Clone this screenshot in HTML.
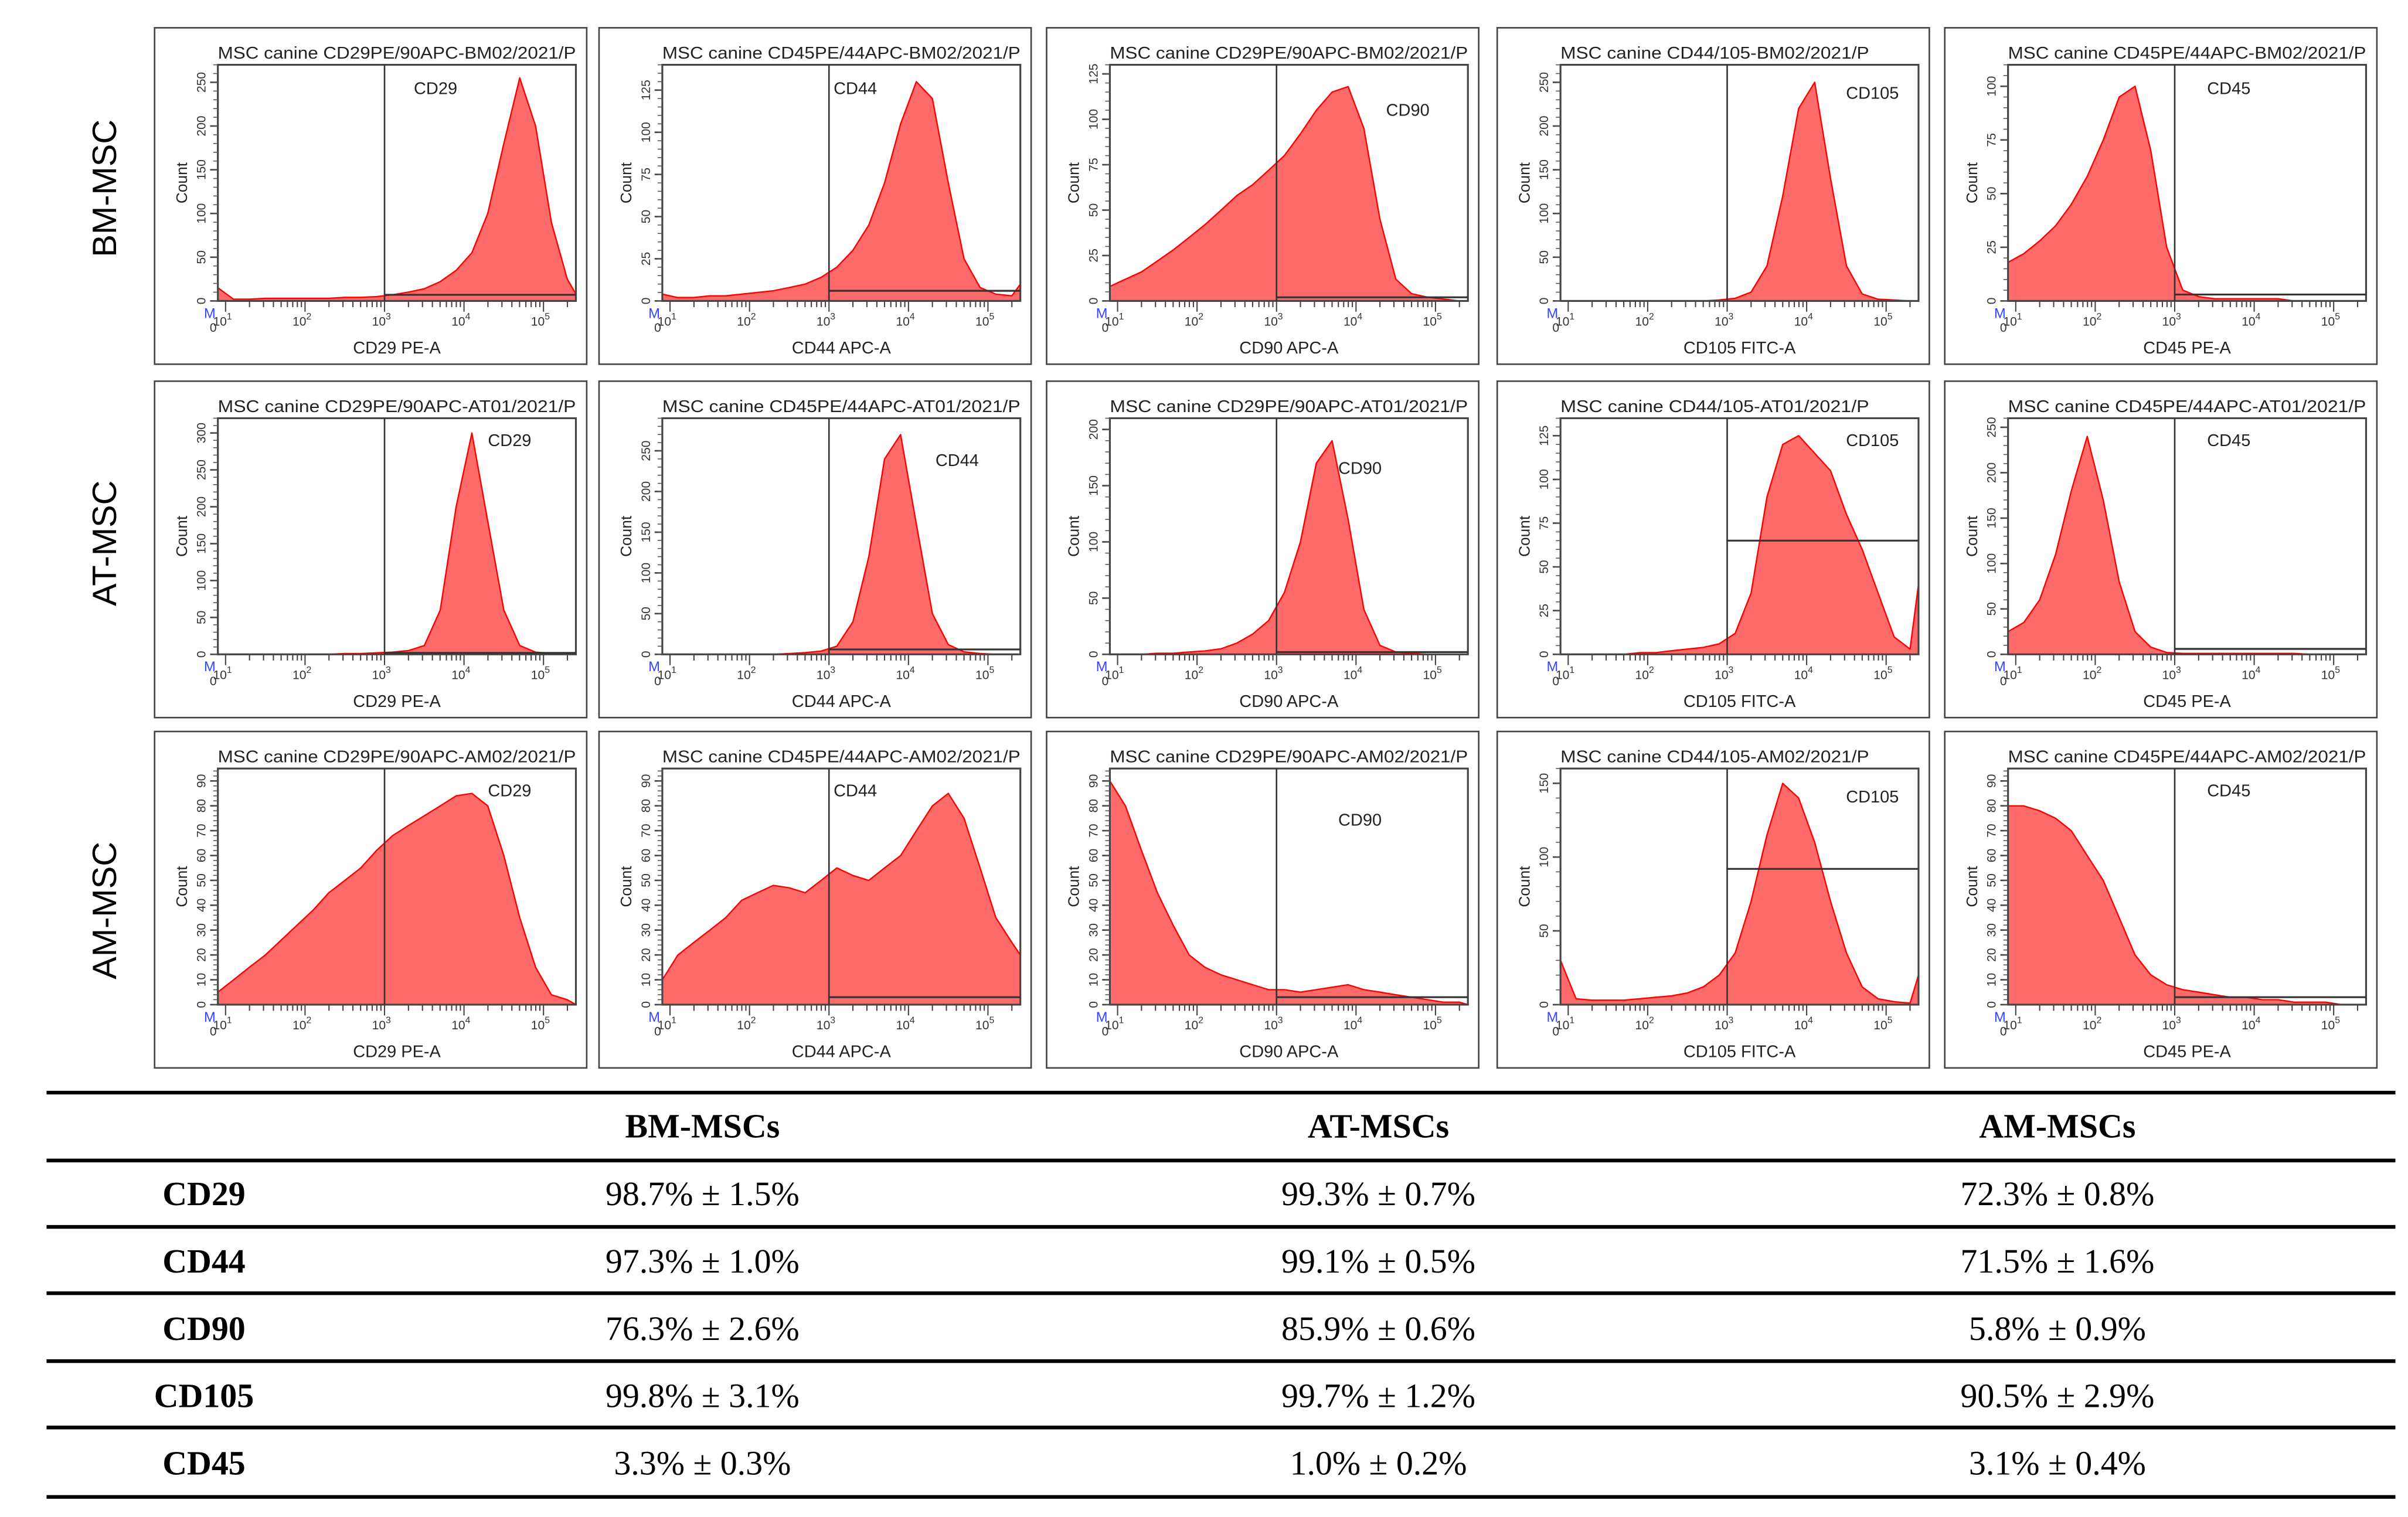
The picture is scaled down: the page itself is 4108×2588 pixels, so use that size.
<!DOCTYPE html>
<html><head><meta charset="utf-8"><style>
html,body{margin:0;padding:0;background:#fff;}
svg{display:block;}
</style></head><body>
<svg id="fig" width="4108" height="2588" viewBox="0 0 1560 983" xmlns="http://www.w3.org/2000/svg" font-family="Liberation Sans, sans-serif">
<g id="panels"></g>
<g id="rowlabels" font-size="22" text-anchor="middle">
<text transform="translate(75,122) rotate(-90)">BM-MSC</text>
<text transform="translate(75,352) rotate(-90)">AT-MSC</text>
<text transform="translate(75,590) rotate(-90)">AM-MSC</text>
</g>
<g id="table" font-family="Liberation Serif, serif" font-size="22" text-anchor="middle"></g>
</svg>
<script>
const NS='http://www.w3.org/2000/svg';
// bin centers in log10 units
const bins=[0.9,1.1,1.3,1.5,1.7,1.9,2.1,2.3,2.5,2.7,2.9,3.1,3.3,3.5,3.7,3.9,4.1,4.3,4.5,4.7,4.9,5.1,5.3,5.45];
const markers=['CD29','CD44','CD90','CD105','CD45'];
const xLabels=['CD29 PE-A','CD44 APC-A','CD90 APC-A','CD105 FITC-A','CD45 PE-A'];
const titles=[
['MSC canine CD29PE/90APC-BM02/2021/P','MSC canine CD45PE/44APC-BM02/2021/P','MSC canine CD29PE/90APC-BM02/2021/P','MSC canine CD44/105-BM02/2021/P','MSC canine CD45PE/44APC-BM02/2021/P'],
['MSC canine CD29PE/90APC-AT01/2021/P','MSC canine CD45PE/44APC-AT01/2021/P','MSC canine CD29PE/90APC-AT01/2021/P','MSC canine CD44/105-AT01/2021/P','MSC canine CD45PE/44APC-AT01/2021/P'],
['MSC canine CD29PE/90APC-AM02/2021/P','MSC canine CD45PE/44APC-AM02/2021/P','MSC canine CD29PE/90APC-AM02/2021/P','MSC canine CD44/105-AM02/2021/P','MSC canine CD45PE/44APC-AM02/2021/P']];
const titleLen=[[232,232,232,200,232],[232,232,232,200,232],[232,232,232,200,232]];
const yMax=[[270,140,130,270,110],[320,290,210,135,260],[95,95,95,160,95]];
const yStep=[[50,25,25,50,25],[50,50,50,25,50],[10,10,10,50,10]];
const counts=[
[[15,2,2,3,3,3,3,3,4,4,5,7,10,14,22,35,55,100,180,255,200,90,25,8],
 [4,2,2,3,3,4,5,6,8,10,14,20,30,45,70,105,130,120,70,25,8,4,3,10],
 [8,12,16,22,28,35,42,50,58,64,72,80,92,105,115,118,95,45,12,4,2,1,0,0],
 [0,0,0,0,0,0,0,0,0,0,1,3,10,40,120,220,250,140,40,8,2,1,0,0],
 [18,22,28,35,45,58,75,95,100,70,25,5,2,1,1,1,1,1,0,0,0,0,0,0]],
[[0,0,0,0,0,0,0,0,1,1,2,3,5,12,60,200,300,180,60,12,3,1,0,0],
 [0,0,0,0,0,0,0,0,1,2,4,10,40,120,240,270,160,50,12,3,1,0,0,0],
 [0,0,0,1,1,2,3,5,10,18,30,55,100,170,190,120,40,8,2,1,0,0,0,0],
 [0,0,0,0,0,1,1,2,3,4,6,12,35,90,120,125,115,105,80,60,35,10,3,40],
 [25,35,60,110,180,240,170,80,25,8,2,1,1,1,1,1,1,1,1,0,0,0,0,0]],
[[5,10,15,20,26,32,38,45,50,55,62,68,72,76,80,84,85,80,60,35,15,4,2,0],
 [10,20,25,30,35,42,45,48,47,45,50,55,52,50,55,60,70,80,85,75,55,35,25,20],
 [90,80,62,45,32,20,15,12,10,8,6,6,5,6,7,8,6,5,4,3,2,1,1,0],
 [30,4,3,3,3,4,5,6,8,12,20,35,70,115,150,140,110,70,35,12,4,2,1,20],
 [80,80,78,75,70,60,50,35,20,12,8,6,5,4,3,3,2,2,1,1,1,0,0,0]]];
// horizontal gate level (count) from 10^3 to right
const hGate=[[7,6,2,0,3],[2,6,2,65,6],[0,3,3,92,3]];
const labelPos=[[[268,61],[540,61],[898,75],[1196,64],[1430,61]],[[316,289],[606,302],[867,307],[1196,289],[1430,289]],[[316,516],[540,516],[867,535],[1196,520],[1430,516]]];
const boxX=[100,388,678,970,1260], boxY=[18,247,474];

function el(tag,attrs,parent,text){const e=document.createElementNS(NS,tag);for(const k in attrs)e.setAttribute(k,attrs[k]);if(text!==undefined)e.textContent=text;parent.appendChild(e);return e;}
const P=document.getElementById('panels');
for(let r=0;r<3;r++)for(let c=0;c<5;c++){
  const bx=boxX[c], by=boxY[r];
  const g=el('g',{},P);
  
  
  el('rect',{x:bx,y:by,width:280,height:218,fill:'#fff',stroke:'#444','stroke-width':1},g);
  const L=bx+41, T=by+24, W=232, H=153, B=T+H;
  const xs=d=>L+108+(d-3)*51.5;
  const ys=v=>B-Math.min(v,yMax[r][c])/yMax[r][c]*H;
  const t=el('text',{x:L,y:by+20,'font-size':11,fill:'#222',textLength:titleLen[r][c],lengthAdjust:'spacingAndGlyphs'},g,titles[r][c]);
  
  
  let d='M'+L+','+B;
  bins.forEach((b,i)=>{d+=' L'+Math.min(Math.max(xs(b),L),L+W).toFixed(1)+','+ys(counts[r][c][i]).toFixed(1);});
  d+=' L'+(L+W)+','+B+' Z';
  const h=el('path',{d:d,fill:'#ff6b6b',stroke:'#f00','stroke-width':0.9,'stroke-linejoin':'round'},g);
  
  
  el('rect',{x:L,y:T,width:W,height:H,fill:'none',stroke:'#444','stroke-width':1.2},g);
  const gx=xs(3);
  el('line',{x1:gx,y1:T,x2:gx,y2:B,stroke:'#333','stroke-width':1},g);
  if(hGate[r][c]>0)el('line',{x1:gx,y1:ys(hGate[r][c]),x2:L+W,y2:ys(hGate[r][c]),stroke:'#333','stroke-width':1.2},g);
  const gl=el('text',{x:labelPos[r][c][0],y:labelPos[r][c][1],'font-size':11,fill:'#222'},g,markers[c]);
  
  
  for(let v=0;v<=yMax[r][c];v+=yStep[r][c]){
    const y=ys(v);
    el('line',{x1:L-5,y1:y,x2:L,y2:y,stroke:'#444','stroke-width':1},g);
    el('text',{'font-size':8,fill:'#333','text-anchor':'middle',transform:`translate(${L-8},${y}) rotate(-90)`},g,String(v));
  }
  for(let v=0;v<=yMax[r][c];v+=yStep[r][c]/5)el('line',{x1:L-3,y1:ys(v),x2:L,y2:ys(v),stroke:'#555','stroke-width':0.6},g);
  const yl=el('text',{'font-size':10,fill:'#222','text-anchor':'middle',transform:`translate(${L-20},${T+H/2}) rotate(-90)`},g,'Count');
  
  
  for(let p=1;p<=5;p++){
    for(let m=1;m<10;m++){const x=xs(p+Math.log10(m));if(x>L+W)break;el('line',{x1:x,y1:B,x2:x,y2:B+(m==1?7:4),stroke:'#444','stroke-width':0.8},g);}
    const tx=el('text',{x:xs(p)-2,y:B+16,'font-size':8,fill:'#333','text-anchor':'middle'},g,'10');
    el('tspan',{dy:-4,'font-size':6},tx,String(p));
  }
  el('text',{x:L-3,y:B+20,'font-size':8,fill:'#333','text-anchor':'middle'},g,'0');
  el('text',{x:L-9,y:B+11,'font-size':9,fill:'#3344ff'},g,'M');
  const xl=el('text',{x:L+W/2,y:by+211,'font-size':11,fill:'#222','text-anchor':'middle'},g,xLabels[c]);
  
  
}
const groups=['BM-MSCs','AT-MSCs','AM-MSCs'];
const vals=[['98.7% ± 1.5%','99.3% ± 0.7%','72.3% ± 0.8%'],['97.3% ± 1.0%','99.1% ± 0.5%','71.5% ± 1.6%'],['76.3% ± 2.6%','85.9% ± 0.6%','5.8% ± 0.9%'],['99.8% ± 3.1%','99.7% ± 1.2%','90.5% ± 2.9%'],['3.3% ± 0.3%','1.0% ± 0.2%','3.1% ± 0.4%']];
const Tb=document.getElementById('table');
const colX=[132,455,893,1333];
[708,752,795,838,882,925,970].forEach(y=>el('line',{x1:30,y1:y,x2:1552,y2:y,stroke:'#000','stroke-width':2.4},Tb));
groups.forEach((gname,i)=>{const t=el('text',{x:colX[i+1],y:737,'font-weight':'bold'},Tb,gname);});
markers.forEach((m,i)=>{const y=781+i*43.6;
  const t=el('text',{x:colX[0],y:y,'font-weight':'bold'},Tb,m);
  vals[i].forEach((v,j)=>{const c=el('text',{x:colX[j+1],y:y},Tb,v);});
});
</script>
</body></html>
